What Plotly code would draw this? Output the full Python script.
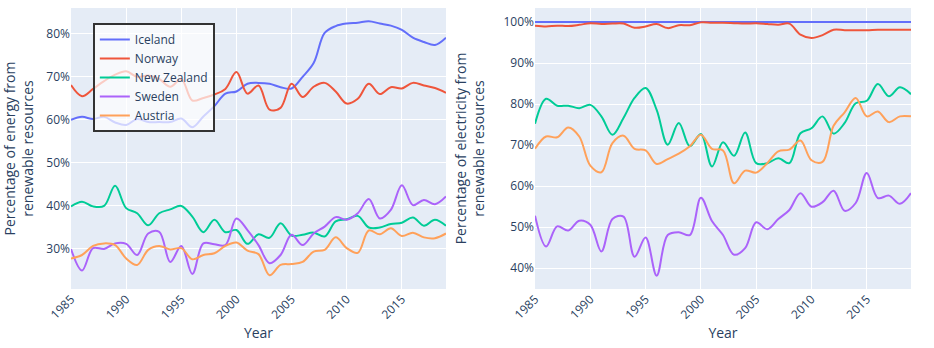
import plotly.graph_objects as go
from plotly.subplots import make_subplots

years = list(range(1985, 2020))
countries = ["Iceland", "Norway", "New Zealand", "Sweden", "Austria"]
colors = ["#636EFA", "#EF553B", "#00CC96", "#AB63FA", "#FFA15A"]

# Percentage of energy from renewable resources
energy_iceland = [60.0, 60.7, 60.2, 60.7, 59.4, 58.8, 60.2, 59.5, 59.5, 59.5, 60.3, 58.3,
                  60.8, 63.2, 66.1, 66.6, 68.4, 68.6, 68.4, 67.6, 67.3, 70.0, 73.2, 80.2,
                  81.8, 82.4, 82.6, 82.9, 82.4, 81.9, 80.9, 79.1, 78.1, 77.4, 79.1]
energy_norway = [68.1, 65.5, 67.2, 69.0, 70.5, 71.3, 70.0, 70.3, 69.5, 67.7, 69.5, 64.5,
                 65.1, 65.9, 67.2, 71.1, 66.1, 68.0, 62.4, 62.8, 68.4, 65.3, 67.7, 68.6,
                 66.6, 63.8, 64.9, 68.4, 66.0, 67.6, 67.3, 68.6, 68.0, 67.4, 66.3]
energy_nz = [39.9, 41.0, 39.9, 40.0, 44.7, 39.5, 38.3, 35.5, 38.3, 39.2, 40.0, 37.5,
             33.9, 36.8, 33.9, 34.4, 31.2, 33.4, 32.6, 36.0, 33.1, 33.3, 33.8, 32.9,
             36.4, 36.9, 37.7, 35.0, 35.0, 35.8, 36.1, 37.3, 35.4, 36.8, 35.4]
energy_sweden = [30.0, 25.0, 30.2, 30.0, 31.3, 31.2, 28.6, 33.6, 34.0, 27.0, 30.7, 24.2,
                 31.3, 31.1, 30.9, 37.1, 34.4, 30.9, 26.7, 28.6, 33.3, 30.9, 33.6, 35.2,
                 37.4, 36.8, 38.3, 41.6, 37.1, 39.1, 44.8, 40.2, 41.4, 40.4, 42.2]
energy_austria = [27.8, 28.6, 30.7, 31.3, 30.9, 27.8, 26.3, 29.8, 30.7, 29.9, 30.2, 27.6,
                  28.6, 29.0, 30.7, 31.5, 29.6, 28.8, 23.9, 26.3, 26.5, 27.0, 29.4, 29.8,
                  32.7, 30.2, 29.1, 34.3, 33.4, 34.8, 33.0, 33.8, 32.7, 32.5, 33.6]

# Percentage of electricity from renewable resources
elec_iceland = [100.0] * 35
elec_norway = [99.1, 98.9, 99.1, 99.0, 99.3, 99.7, 99.5, 99.6, 99.6, 98.6, 98.9, 99.5,
               98.5, 99.2, 99.2, 99.9, 99.8, 99.8, 99.7, 99.6, 99.7, 99.5, 99.3, 99.6,
               96.9, 96.1, 96.8, 98.1, 98.0, 98.0, 98.0, 98.1, 98.1, 98.1, 98.1]
elec_nz = [75.2, 81.3, 79.6, 79.6, 79.0, 79.8, 77.0, 72.5, 76.6, 81.5, 83.9, 78.6,
           70.1, 75.4, 69.7, 72.7, 64.8, 70.7, 67.4, 73.1, 65.6, 65.6, 66.8, 65.6,
           72.9, 74.1, 77.0, 72.8, 75.4, 80.2, 80.8, 84.9, 81.9, 84.1, 82.4]
elec_sweden = [52.8, 45.3, 50.2, 49.2, 51.6, 50.6, 44.1, 52.0, 52.6, 42.8, 47.5, 38.2,
               48.1, 48.8, 48.1, 57.2, 51.5, 48.1, 43.3, 44.9, 51.2, 49.5, 52.0, 54.2,
               58.3, 55.0, 56.1, 58.9, 54.0, 55.9, 63.2, 57.1, 57.7, 55.7, 58.3]
elec_austria = [69.1, 72.1, 71.9, 74.3, 72.1, 65.0, 63.4, 70.5, 72.3, 69.1, 68.7, 65.4,
                66.6, 67.9, 69.7, 72.5, 69.1, 68.7, 60.7, 63.8, 63.3, 65.6, 68.5, 68.9,
                71.1, 66.3, 65.9, 74.7, 78.0, 81.5, 77.0, 78.2, 75.6, 77.0, 77.0]

energy = [energy_iceland, energy_norway, energy_nz, energy_sweden, energy_austria]
elec = [elec_iceland, elec_norway, elec_nz, elec_sweden, elec_austria]

x_ticks = [1985, 1990, 1995, 2000, 2005, 2010, 2015]

fig = make_subplots(rows=1, cols=2)

for name, color, e_vals, el_vals in zip(countries, colors, energy, elec):
    fig.add_trace(go.Scatter(x=years, y=e_vals, name=name, mode="lines",
                             line=dict(color=color, width=2, shape="spline"),
                             showlegend=True), row=1, col=1)
    fig.add_trace(go.Scatter(x=years, y=el_vals, name=name, mode="lines",
                             line=dict(color=color, width=2, shape="spline"),
                             showlegend=False), row=1, col=2)

font_color = "#2a3f5f"
fig.update_layout(
    template="plotly",
    width=934, height=348,
    margin=dict(l=71, r=23, t=8, b=59),
    font=dict(family="Open Sans, Verdana, Arial, sans-serif", size=12, color=font_color),
    legend=dict(x=0.026, y=0.947, xanchor="left", yanchor="top",
                bgcolor="rgba(255,255,255,0.7)", bordercolor="#333", borderwidth=2,
                tracegroupgap=0, font=dict(size=12)),
    plot_bgcolor="#E5ECF6",
)

fig.update_xaxes(range=[1985, 2019], tickvals=x_ticks, tickangle=-45, automargin=True,
                 tickfont=dict(size=12),
                 title=dict(text="Year", font=dict(size=14), standoff=6))
fig.layout.xaxis.domain = [0, 0.4464]
fig.layout.xaxis2.domain = [0.5524, 1]

fig.update_yaxes(ticksuffix="%", dtick=10, automargin=False, tickfont=dict(size=12))
fig.update_yaxes(range=[20.7, 86.0], row=1, col=1,
                 title=dict(text="Percentage of energy from<br>renewable resources", font=dict(size=14)))
fig.update_yaxes(range=[34.95, 103.4], row=1, col=2,
                 title=dict(text="Percentage of electricity from<br>renewable resources", font=dict(size=14)))

fig.write_html("out.html")
